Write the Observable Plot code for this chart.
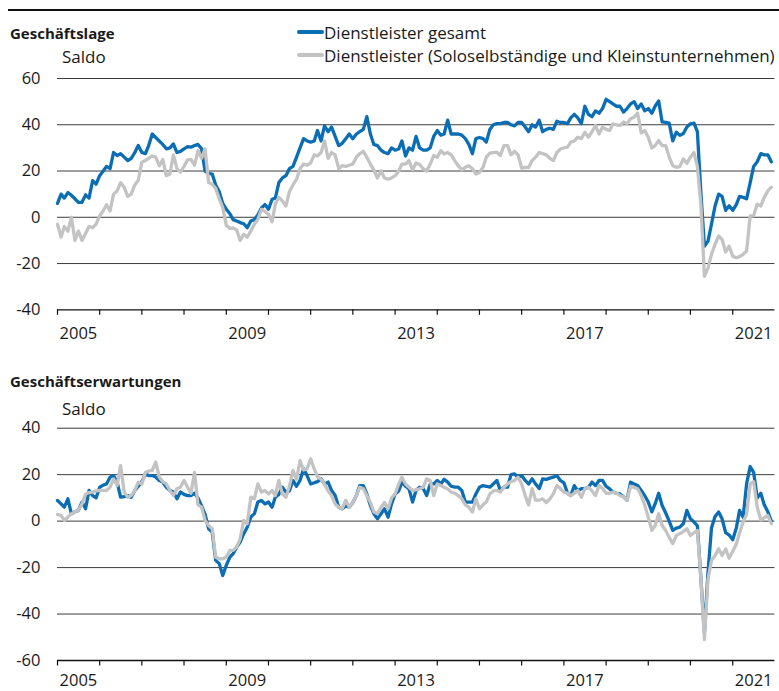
<!DOCTYPE html>
<html><head><meta charset="utf-8">
<script src="https://cdn.jsdelivr.net/npm/d3@7"></script>
<script src="https://cdn.jsdelivr.net/npm/@observablehq/plot@0.6"></script>
<style>
body{margin:0;background:#fff;}
#root{position:relative;width:779px;height:691px;font-family:"Open Sans",sans-serif;color:#1a1a1a;overflow:hidden;background:#fff}
.t{position:absolute;white-space:nowrap;line-height:1;transform:translateY(-50%)}
.b{font-weight:700;font-size:15px}
.n{font-size:17px}
.sw{position:absolute;height:3.5px;width:27px;border-radius:2px}
.panel{position:absolute;left:0}
</style></head><body><div id="root"></div>
<script>
// monthly values, Jan 2005 .. Dec 2021
const lageGesamt = [
 6,10,8.3,10.7,9.5,8,6.4,6.5,9.7,8.3,15.8,14.3,
 18,20,22,21,28,26.7,27.5,26,24.5,25.5,28,31,
 28,27.5,31,36,34.5,33,31.5,29.6,30,31.7,28,28.5,
 29.6,30.5,30.3,31,31.5,29.6,20,19,18.7,14,11,6,
 3.5,1.5,-1,-1.6,-2.3,-2.8,-4.5,-1.6,-1,1,4,5.5,
 3.5,7.8,8.3,15,17,18,21,22,26,30,34,33,
 32.5,33,37.5,33,39.5,37,39,35,31,32,34,36,
 34,36,37,38,43.5,36,31.5,31,29,28,27.5,30,
 29,29.5,33,26.5,30,29,35,30,29,29,30,35,
 37.5,35.5,36,42,36,36,36,35.5,34,31.5,27.5,34,
 34.5,34,32.5,38,40,40.5,40.5,41,41,40,39.5,41,
 41,39,37,40,39,42,37,38,38.5,38,41.5,41,
 41,40.5,43,44.5,43,40.5,48,44.5,43.5,46,45,47,
 51,50,49,48,48,45.5,47,49,50,47,49,46,
 47,45,48,50.3,41.2,41,40.7,33,36.8,35.4,36.2,39,
 40.4,40.7,37,10,-12.5,-10.3,-3,4.9,10,9,3,5,
 3,5.5,9,8.6,8,15,22,24,27.5,27,27,24
];
const lageSolo = [
 -3,-8.5,-4,-6,0,-10,-6,-10,-7,-4,-4.5,-3,
 0.6,2.8,5.4,2.8,10,11.4,15,13,9,10,14,16,
 23.8,24.5,25.5,26.5,26,22.3,25,18,18.7,27,21,19.5,
 22,24.8,25,22.5,28.8,25.5,29.6,15,14.3,12.5,8,4.2,
 -3.5,-4.8,-4.6,-5.5,-10,-7.4,-8.6,-6,-3,-0.9,3.5,2.5,
 1.3,-1.9,5.7,8.6,7.1,4.9,11,14,16.5,21,23,22.5,
 23.5,27,26.5,28,33,25.5,28,27,21,22.3,22,22.5,
 23,26,27.5,28.5,26,23,20.5,17,20,17,16.5,17,
 18,20,23,23,24.5,20.5,23.5,22.8,21,20,23,26.7,
 26,28.8,27.4,28,27,24.5,22.3,20.5,21.6,22.3,21,18.7,
 19.4,21.6,26,27.7,28,28.2,26.7,31,31,27,28.5,27,
 21.3,21.6,21.5,24.5,26,28,27.5,27,25.5,24.5,28,29.5,
 30,30.3,32.5,33,34.6,34,36.8,34.6,37,39.7,36,39,
 38,37.5,40.4,40,39.7,41.2,40.4,42.6,43.3,45,36.5,37.5,
 34.6,30,31,33.2,31,31,26,22.3,21.6,21.9,25.2,23.3,
 26,28,22,5,-25.5,-22,-16,-11.7,-8.1,-9.6,-15,-12.5,
 -16.8,-17.5,-17,-16,-14.6,0.6,0.6,5.7,4.9,8.6,11.4,13
];
const erwGesamt = [
 8.9,7.4,6,9.6,3.2,4,4.6,8.2,5.3,13.2,11,10,
 14.6,15.5,16,18.9,19.6,16.8,10.3,10.5,11,10.3,13.2,15,
 17,20.3,19.6,19.6,19,17.5,16.8,14.6,13.2,12.5,9.6,12.5,
 11.5,11,11,12,10,6.5,3,-3.3,-4.7,-16.9,-18.3,-23.4,
 -19,-15.5,-14,-11.2,-9,-5.4,-2.6,1.7,3.2,8.2,8.9,7.4,
 8.2,6,10.3,11.5,14.6,12.5,13,17.5,15,17.5,22.5,19.6,
 16,16.5,17,18.2,16,16.8,13.2,11,6,5.3,6.5,6,
 8,11,15.3,15.3,11.7,6.7,3.2,1,3.2,5.3,1.7,7.4,
 11.7,13,16.8,15,13.9,8.2,13.2,14.6,14,11,16,16,
 17.5,16,18,16.8,15,14.6,14.6,13.2,8.2,8.2,8.2,11.7,
 14.6,15.3,15,14.6,16,17.5,13.2,14.6,14.6,20,20.3,18.9,
 19.6,17.5,16,18.2,16,14,18.2,18,18.5,18.9,19.6,17.5,
 16.5,12,11,15.3,13,14,14,14.6,16.8,15.3,17.5,17.5,
 15,13.9,12.5,12,11.7,10.5,9,16.8,16,15.3,13.2,11,
 8.2,4,7.4,12,6.7,3.5,0,-4,-3,-2.6,-1.1,4.6,
 1,-0.4,-2,-25,-48,-22,-3,2,3.9,1,-5,-6,
 -8,-3,4.6,1.7,16,23.5,21,10,12,7,4,0
];
const erwSolo = [
 2.9,2.4,0.3,1.7,3.2,4,4.6,7.4,11.7,12.3,12.5,13,
 13.2,13.2,13.2,14.6,18.2,15.3,23.9,12.5,10.3,11,13.2,16.8,
 16,21,21.5,21.8,25.4,18.9,17,16,13.2,11,13.9,14.6,
 17.5,14.6,12,21,7,6,0.3,-1.9,-3.3,-15.5,-16.2,-16.2,
 -15.5,-12.6,-12.6,-11.2,-7.6,0.3,-1.1,10.3,9.6,16,12.5,13.2,
 11.7,13.2,11,17.5,11.7,10.3,15,21.8,18,26,22,22.5,
 26.8,22.5,19,18,16,13,11,7.4,6,5.3,9,6,
 8,11,14.6,13.9,11,8,3.9,3.2,6,8,5.3,10,
 11.7,16,18.9,16,14.6,13.2,13.5,13.9,14.6,18.2,17.5,11,
 16,15.3,14.5,13.9,12.5,12,11,9.6,7,6,3.9,9.6,
 5.3,7,8.2,11.7,13,13.2,12.5,14.6,16,17,17.5,18.9,
 16,11,7,14,9,9,9.6,8,9.5,11.7,15.3,14,
 12.5,12,11,12,13.2,10.3,13.9,14.6,13,11,15.3,14,
 12,12,12.5,12,11,10.5,9,15,14.5,13.9,11,7,
 1.7,-4,-2,3.2,-1.9,-4,-7,-9.7,-6.2,-5.4,-4.5,-3.3,
 -6.2,-5,-4,-25,-51,-25,-17,-14.8,-11.9,-14.8,-12,-16,
 -13,-10,-5,-0.4,3,16,17,6,0.5,1.5,2.4,-1.1
];
const yearLabels = [2005, 2009, 2013, 2017, 2021];
const lageTicks = [60, 40, 20, 0, -20, -40];
const erwTicks = [40, 20, 0, -20, -40, -60];
const seriesNames = ["Dienstleister gesamt", "Dienstleister (Soloselbständige und Kleinstunternehmen)"];
const seriesColors = ["#0b6db3", "#c3c3c3"];
const panelTitles = ["Geschäftslage", "Geschäftserwartungen"];
const unitLabel = "Saldo";

const root = document.getElementById("root");
const utc = (y, m) => new Date(Date.UTC(y, m, 1));
const toRows = arr => arr.map((v, i) => ({date: utc(2005, i), v}));
const yearStarts = d3.range(2005, 2022).map(y => utc(y, 0));
const labelDates = yearLabels.map(y => utc(y, 6));

function panel(a, b, ticks, opts) {
  const ymin = d3.min(ticks), ymax = d3.max(ticks);
  const svg = Plot.plot({
    width: 779, height: opts.height,
    marginLeft: 57, marginRight: 4.6, marginTop: opts.mt, marginBottom: opts.mb,
    style: {fontFamily: '"Open Sans", sans-serif', background: "transparent", color: "#1a1a1a"},
    x: {type: "utc", domain: [utc(2005, 0), utc(2022, 0)], axis: null},
    y: {domain: [ymin, ymax], axis: null},
    marks: [
      Plot.ruleY(ticks.filter(t => t !== ymin), {stroke: "#3c3c3c", strokeWidth: 1}),
      Plot.axisY({ticks, tickSize: 0, tickPadding: 17, fontSize: 16.5, fill: "#1a1a1a", label: null, tickFormat: d => String(d)}),
      Plot.axisX({ticks: yearStarts, tickSize: 5.5, tickFormat: () => "", label: null, stroke: "#111", strokeWidth: 1.2}),
      Plot.ruleY([ymin], {stroke: "#111", strokeWidth: 1.3}),
      Plot.text(labelDates, {x: d => d, y: ymin, dy: opts.ldy, text: d => String(d.getUTCFullYear()), fontSize: 16.5, fill: "#1a1a1a"}),
      Plot.lineY(toRows(a), {x: "date", y: "v", stroke: seriesColors[0], strokeWidth: 3.3, strokeLinejoin: "round"}),
      Plot.lineY(toRows(b), {x: "date", y: "v", stroke: seriesColors[1], strokeWidth: 3.3, strokeLinejoin: "round"})
    ]
  });
  svg.classList.add("panel");
  svg.style.top = opts.top + "px";
  root.appendChild(svg);
}

panel(lageGesamt, lageSolo, lageTicks, {top: 60, height: 286, mt: 18, mb: 36.7, ldy: 24});
panel(erwGesamt, erwSolo, erwTicks, {top: 410, height: 281, mt: 17.7, mb: 31, ldy: 20.5});

function txt(s, x, y, cls) {
  const d = document.createElement("div");
  d.className = "t " + cls;
  d.textContent = s;
  d.style.left = x + "px";
  d.style.top = y + "px";
  root.appendChild(d);
}
// top rule
const rule = document.createElement("div");
rule.style.cssText = "position:absolute;left:8px;right:0;top:8.5px;height:2.8px;background:#111";
root.appendChild(rule);

txt(panelTitles[0], 10, 33, "b");
txt(unitLabel, 62, 56, "n");
txt(panelTitles[1], 10, 381, "b");
txt(unitLabel, 62, 408, "n");

[32, 55].forEach((y, i) => {
  const s = document.createElement("div");
  s.className = "sw";
  s.style.left = "297px";
  s.style.top = (y - 1.75) + "px";
  s.style.background = seriesColors[i];
  root.appendChild(s);
  txt(seriesNames[i], 324, y, "n");
});
</script></body></html>
